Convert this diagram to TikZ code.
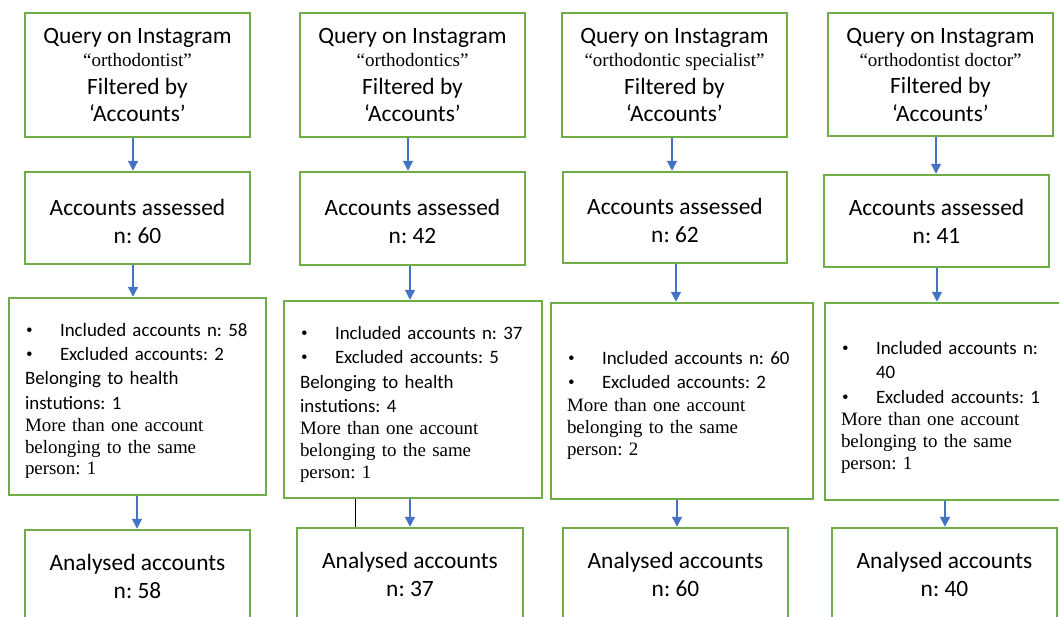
\documentclass[tikz,border=0pt]{standalone}
\usepackage{fontspec}
\setmainfont{Carlito}
\newfontfamily\tnr{Liberation Serif}
\usetikzlibrary{arrows.meta}
\definecolor{boxgreen}{RGB}{112,173,71}
\definecolor{arrblue}{RGB}{68,114,196}
\newcommand\lbul{\makebox[35pt][l]{\tnr\hspace{1pt}•}}
\newcommand\qterm[1]{{\tnr\fontsize{19}{22}\selectfont #1}}
\newcommand\topstrut[1]{\rule{0pt}{#1pt}}
\begin{document}
\frenchspacing
\begin{tikzpicture}[x=1pt,y=-1pt,
  box/.style={draw=boxgreen, line width=2.5pt, fill=white, inner sep=0pt},
  headbox/.style={box, minimum width=225pt, minimum height=124pt, align=center, font=\frenchspacing\fontsize{23.4}{27.5}\selectfont},
  midbox/.style={box, minimum width=225pt, minimum height=92pt, align=center, font=\frenchspacing\fontsize{23.4}{28}\selectfont},
  listbox/.style={box, minimum height=197pt, inner xsep=16pt, align=left, font=\frenchspacing\fontsize{18.9}{24.4}\selectfont},
  arr/.style={draw=arrblue, line width=1.4pt, -{Triangle[width=10pt,length=10pt]}},
  plain/.style={draw=black, line width=1pt},
]
\useasboundingbox (0,0) rectangle (1059,616);
\fill[white] (0,0) rectangle (1059,616);
\clip (0,0) rectangle (1059,616);

% column 1
\node[headbox] (A1) at (137.5,75) {Query on Instagram\\[-4.5pt]\qterm{“orthodontist”}\\Filtered by\\‘Accounts’};
\node[midbox] (B1) at (137.5,218) {\topstrut{23}Accounts assessed\\n: 60};
\node[listbox, text width=225pt] (C1) at (137.5,396.5) {\topstrut{22}\lbul Included accounts n: 58\\
\lbul Excluded accounts: 2\\
Belonging to health\\
instutions: 1\\[-2.5pt]
{\tnr More than one account}\\[-2.5pt]
{\tnr belonging to the same}\\[-2.5pt]
{\tnr person: 1}};
\node[midbox] (D1) at (137.5,576) {Analysed accounts\\n: 58};

% column 2
\node[headbox] (A2) at (412.5,75) {Query on Instagram\\[-4.5pt]\qterm{“orthodontics”}\\Filtered by\\‘Accounts’};
\node[midbox, minimum height=93pt] (B2) at (412.5,218.5) {\topstrut{23}Accounts assessed\\n: 42};
\node[listbox, text width=226pt] (C2) at (413,399.5) {\topstrut{23}\lbul Included accounts n: 37\\
\lbul Excluded accounts: 5\\
Belonging to health\\
instutions: 4\\[-2.5pt]
{\tnr More than one account}\\[-2.5pt]
{\tnr belonging to the same}\\[-2.5pt]
{\tnr person: 1}};
\node[midbox, minimum width=226pt] (D2) at (410,574) {Analysed accounts\\n: 37};

% column 3
\node[headbox] (A3) at (674.5,75) {Query on Instagram\\[-4.5pt]\qterm{“orthodontic specialist”}\\Filtered by\\‘Accounts’};
\node[midbox, minimum width=224pt, minimum height=91pt] (B3) at (675,217.5) {\topstrut{21.5}Accounts assessed\\n: 62};
\node[listbox, text width=230pt, minimum height=196pt] (C3) at (682,401) {\topstrut{22}\lbul Included accounts n: 60\\
\lbul Excluded accounts: 2\\[-1.5pt]
{\tnr More than one account}\\[-2.5pt]
{\tnr belonging to the same}\\[-2.5pt]
{\tnr person: 2}};
\node[midbox] (D3) at (675.5,574) {Analysed accounts\\n: 60};

% column 4
\node[headbox, minimum height=123pt] (A4) at (940.5,74.5) {Query on Instagram\\[-4.5pt]\qterm{“orthodontist doctor”}\\Filtered by\\‘Accounts’};
\node[midbox] (B4) at (936.5,221) {Accounts assessed\\n: 41};
\node[listbox, text width=228pt] (C4) at (955,401.5) {\topstrut{25}\lbul Included accounts n:\\
\hspace*{35pt}40\\
\lbul Excluded accounts: 1\\[-1.5pt]
{\tnr More than one account}\\[-2.5pt]
{\tnr belonging to the same}\\[-2.5pt]
{\tnr person: 1}};
\node[midbox] (D4) at (944.5,574) {Analysed accounts\\n: 40};

% connectors
\draw[arr] ([xshift=-4.5pt]A1.south) -- ([xshift=-4.5pt]B1.north);
\draw[arr] ([xshift=-4.5pt]B1.south) -- ([xshift=-4.5pt]B1.south |- C1.north);
\draw[arr] ([xshift=-0.5pt]D1.north |- C1.south) -- ([xshift=-0.5pt]D1.north);

\draw[arr] ([xshift=-4.5pt]A2.south) -- ([xshift=-4.5pt]A2.south |- B2.north);
\draw[arr] ([xshift=-2.5pt]B2.south) -- ([xshift=-2.5pt]B2.south |- C2.north);
\draw[arr] (C2.south -| D2.north) -- (D2.north);
\draw[plain] ([xshift=-55pt]D2.north) -- ([xshift=-55pt]D2.north |- C2.south);

\draw[arr] ([xshift=-2.5pt]A3.south) -- ([xshift=-2.5pt]A3.south |- B3.north);
\draw[arr] ([xshift=1pt]B3.south) -- ([xshift=1pt]B3.south |- C3.north);
\draw[arr] ([xshift=1.5pt]D3.north |- C3.south) -- ([xshift=1.5pt]D3.north);

\draw[arr] ([xshift=-4.5pt]A4.south) -- ([xshift=-4.5pt]A4.south |- B4.north);
\draw[arr] ([xshift=0.5pt]B4.south) -- ([xshift=0.5pt]B4.south |- C4.north);
\draw[arr] ([xshift=0.5pt]D4.north |- C4.south) -- ([xshift=0.5pt]D4.north);
\end{tikzpicture}
\end{document}
